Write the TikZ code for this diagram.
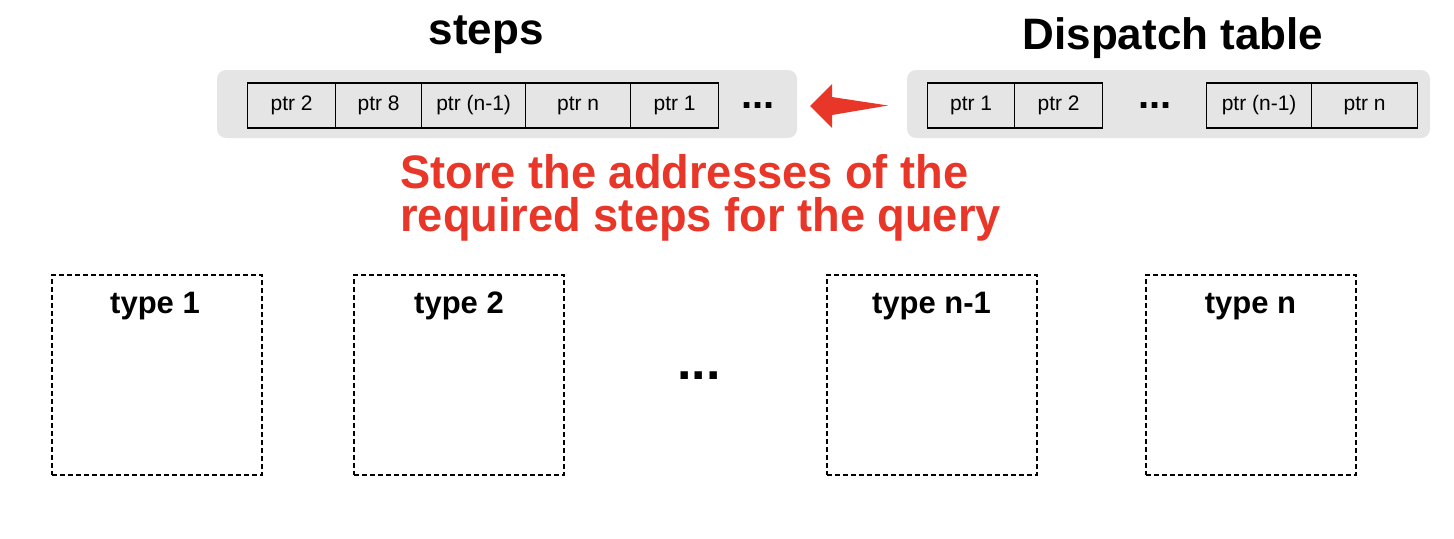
\documentclass[tikz,border=0pt]{standalone}
\usepackage{fontspec}
\setmainfont{Liberation Sans}
\newfontfamily\narrowsans[FakeStretch=0.962]{Liberation Sans}
\definecolor{hlred}{RGB}{232,54,40}
\definecolor{panelgray}{RGB}{229,229,229}
\tikzset{
  panel/.style={fill=panelgray, draw=none, rounded corners=4.5pt, inner sep=0pt, minimum height=34pt},
  cell/.style={draw=black, line width=0.6pt, inner sep=0pt, minimum height=22.5pt, anchor=west, font=\fontsize{10.5}{12}\selectfont},
  dots/.style={inner sep=0pt, font=\bfseries\fontsize{20}{20}\selectfont},
  title/.style={inner sep=0pt, anchor=base, font=\bfseries\fontsize{22}{24}\selectfont},
  typebox/.style={draw=black, line width=1pt, dash pattern=on 2.5pt off 1.5pt, minimum width=105pt, minimum height=100pt, inner sep=0pt},
  typelabel/.style={inner sep=0pt, anchor=base, font=\bfseries\fontsize{15.5}{18}\selectfont},
}
\begin{document}
\begin{tikzpicture}[x=0.5pt,y=-0.5pt]
\useasboundingbox (0,0) rectangle (1454,538);
% titles
\node[title] (tsteps) at (486,44) {steps};
\node[title] (tdisp) at (1173,49) {Dispatch table};
% panels
\node[panel, minimum width=290pt] (lpanel) at (507,104) {};
\node[panel, minimum width=261.5pt] (rpanel) at (1168.5,104) {};
% left cells
\node[cell, minimum width=44pt] (l1) at (247,105.5) {ptr 2};
\node[cell, minimum width=43pt] (l2) at (335,105.5) {ptr 8};
\node[cell, minimum width=52pt] (l3) at (421,105.5) {ptr (n-1)};
\node[cell, minimum width=52.5pt] (l4) at (525,105.5) {ptr n};
\node[cell, minimum width=44pt] (l5) at (630,105.5) {ptr 1};
\node[dots] (ldots) at (758,106) {...};
% right cells
\node[cell, minimum width=43.5pt] (r1) at (927,105.5) {ptr 1};
\node[cell, minimum width=44pt] (r2) at (1014,105.5) {ptr 2};
\node[dots] (rdots) at (1155,106) {...};
\node[cell, minimum width=52.5pt] (r3) at (1206,105.5) {ptr (n-1)};
\node[cell, minimum width=53pt] (r4) at (1311,105.5) {ptr n};
% block arrow from dispatch table to steps
\fill[hlred] (810,106) -- (832,84) -- (832,97) -- (888,105.5) -- (832,115) -- (832,128) -- cycle;
% caption
\node[anchor=base west, inner sep=0pt, align=left, text=hlred, font=\narrowsans\bfseries\fontsize{23.5}{21.5}\selectfont] (note) at (400,231) {Store the addresses of the\\required steps for the query};
% type boxes
\node[typebox] (b1) at (157,375) {};
\node[typebox] (b2) at (459,375) {};
\node[typebox] (b3) at (931.5,375) {};
\node[typebox] (b4) at (1250.5,375) {};
\node[typelabel] (lb1) at (155,313) {type 1};
\node[typelabel] (lb2) at (459,313) {type 2};
\node[typelabel] (lb3) at (931.5,313) {type n-1};
\node[typelabel] (lb4) at (1250.5,313) {type n};
\node[dots, font=\bfseries\fontsize{26}{26}\selectfont] (bdots) at (699,376) {...};
\end{tikzpicture}
\end{document}
